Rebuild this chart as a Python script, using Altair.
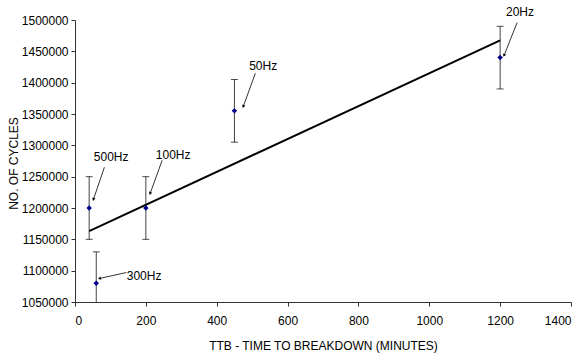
import altair as alt
import numpy as np
import pandas as pd

# Time to breakdown vs. number of cycles at each test frequency
freq_labels = ["500Hz", "300Hz", "100Hz", "50Hz", "20Hz"]
ttb_minutes = [40, 60, 200, 450, 1200]
cycles = [1200000, 1080000, 1200000, 1355000, 1440000]
cycle_err = [50000, 50000, 50000, 50000, 50000]

# Callout text anchors and arrow endpoints (data units)
label_x = [102, 195, 277, 531, 1256]
label_y = [1282000, 1091000, 1285000, 1426000, 1512000]
arrow_x1 = [83, 145, 246, 509, 1248]
arrow_y1 = [1265000, 1097000, 1276000, 1415000, 1496000]
arrow_x2 = [52, 69, 212, 475, 1211]
arrow_y2 = [1213600, 1087500, 1223000, 1362000, 1443400]

x_ticks = [0, 200, 400, 600, 800, 1000, 1200, 1400]
y_ticks = [1050000, 1100000, 1150000, 1200000, 1250000, 1300000,
           1350000, 1400000, 1450000, 1500000]

W, H = 496, 282
X_DOM = [0, 1400]
Y_DOM = [1050000, 1500000]
FONT = "Liberation Sans"

df = pd.DataFrame({
    "freq": freq_labels,
    "ttb": ttb_minutes,
    "cycles": cycles,
    "lo": np.array(cycles) - np.array(cycle_err),
    "hi": np.array(cycles) + np.array(cycle_err),
})

# arrowhead rotation from the on-screen direction of each arrow
dxp = (np.array(arrow_x2) - np.array(arrow_x1)) * W / (X_DOM[1] - X_DOM[0])
dyp = -(np.array(arrow_y2) - np.array(arrow_y1)) * H / (Y_DOM[1] - Y_DOM[0])
head_angle = (np.degrees(np.arctan2(dxp, -dyp)) + 360) % 360

ann = pd.DataFrame({
    "freq": freq_labels,
    "lx": label_x, "ly": label_y,
    "x1": arrow_x1, "y1": arrow_y1,
    "x2": arrow_x2, "y2": arrow_y2,
    "angle": head_angle,
})

xs = alt.Scale(domain=X_DOM, nice=False, zero=False)
ys = alt.Scale(domain=Y_DOM, nice=False, zero=False)

x_axis = alt.Axis(values=x_ticks, format="d", labelOverlap=False,
                  title="TTB - TIME TO BREAKDOWN (MINUTES)",
                  titleY=43, titleBaseline="middle", labelPadding=9)
y_axis = alt.Axis(values=y_ticks, format="d", labelOverlap=False,
                  title="NO. OF CYCLES",
                  titleX=-62, titleY=143, titleBaseline="middle", labelPadding=3)


def X(field):
    return alt.X(field, type="quantitative", scale=xs, axis=x_axis)


def Y(field):
    return alt.Y(field, type="quantitative", scale=ys, axis=y_axis)


base = alt.Chart(df)

err_rule = base.mark_rule(color="#444444", strokeWidth=1, clip=True).encode(
    x=X("ttb"), y=Y("lo"), y2="hi:Q",
)
cap_hi = base.mark_tick(orient="horizontal", size=7, thickness=1, color="black", clip=True).encode(
    x=X("ttb"), y=Y("hi")
)
cap_lo = base.mark_tick(orient="horizontal", size=7, thickness=1, color="black", clip=True).encode(
    x=X("ttb"), y=Y("lo")
)

trend = base.transform_regression("ttb", "cycles").mark_line(color="black", strokeWidth=2).encode(
    x=X("ttb"), y=Y("cycles")
)

points = base.mark_point(shape="diamond", filled=True, size=30, color="#00008B", opacity=1).encode(
    x=X("ttb"), y=Y("cycles")
)

a = alt.Chart(ann)
arrows = a.mark_rule(color="black", strokeWidth=0.8).encode(
    x=X("x1"), y=Y("y1"), x2="x2:Q", y2="y2:Q"
)
heads = a.mark_point(shape="triangle-up", filled=True, size=12, color="black", opacity=1).encode(
    x=X("x2"), y=Y("y2"), angle=alt.Angle("angle:Q", scale=None)
)
labels = a.mark_text(font=FONT, fontSize=12, color="black").encode(
    x=X("lx"), y=Y("ly"), text="freq:N"
)

chart = alt.layer(err_rule, cap_hi, cap_lo, trend, arrows, heads, points, labels).properties(
    width=W, height=H,
    autosize=alt.AutoSizeParams(type="none"),
    padding={"left": 75, "top": 20, "right": 11, "bottom": 56},
    background="white",
).configure_view(stroke=None).configure_axis(
    grid=False, domainColor="#333333", tickColor="#333333", tickSize=4,
    labelFont=FONT, labelFontSize=12, labelColor="black",
    titleFont=FONT, titleFontSize=12, titleFontWeight="normal", titleColor="black",
)

chart.save("out.html", embed_options={"renderer": "svg", "actions": False})
